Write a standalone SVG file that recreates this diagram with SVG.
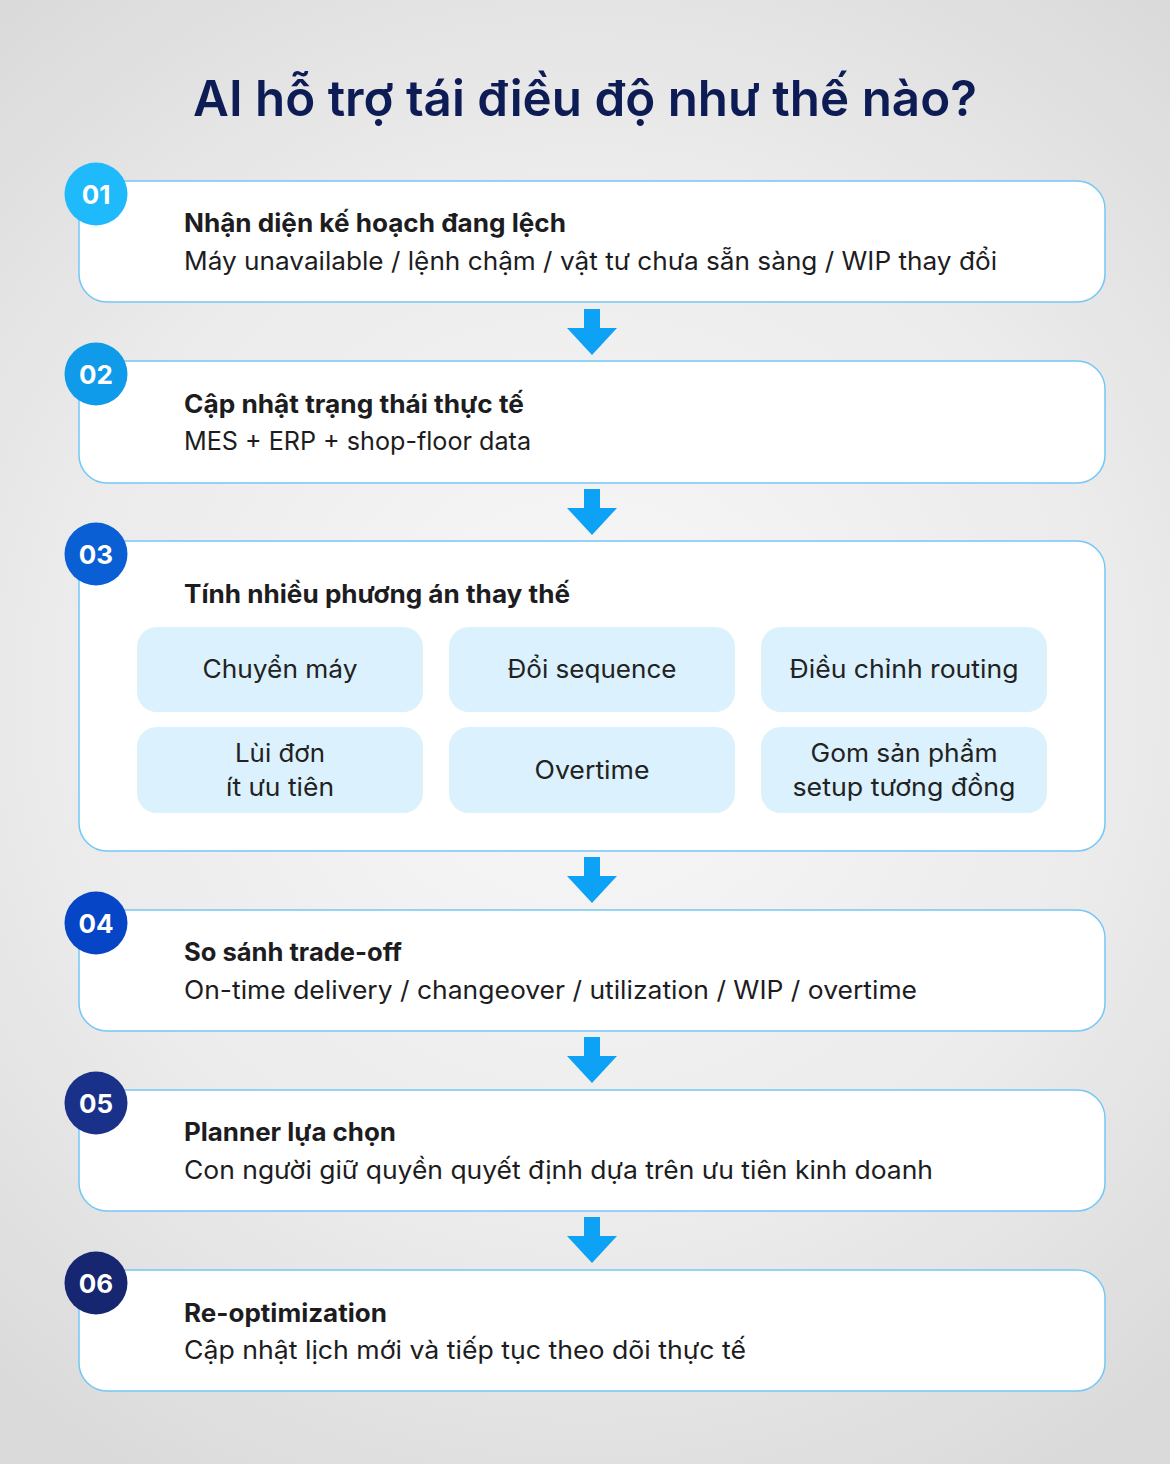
<svg xmlns="http://www.w3.org/2000/svg" width="1170" height="1464" viewBox="0 0 1170 1464">
  <defs>
    <radialGradient id="bg" cx="585" cy="700" r="900" gradientUnits="userSpaceOnUse">
      <stop offset="0" stop-color="#f8f8f8"/>
      <stop offset="0.6" stop-color="#ebebeb"/>
      <stop offset="1" stop-color="#dadada"/>
    </radialGradient>
    <path id="arrow" d="M-8,0 L8,0 L8,19 L25,19 L0,46 L-25,19 L-8,19 Z"/>
  </defs>
  <style>
    .card { fill: #ffffff; stroke: #74c7f6; stroke-width: 1.5; }
    .pill { fill: #dbf1fd; }
    .badgeText { font-family: Inter, "Noto Sans", sans-serif; font-size: 26px; font-weight: 700; fill: #ffffff; text-anchor: middle; }
    .head { font-family: Inter, "Noto Sans", sans-serif; font-size: 25px; font-weight: 700; fill: #1d1d1f; }
    .sub { font-family: Inter, "Noto Sans", sans-serif; font-size: 25px; font-weight: 400; fill: #1d1d1f; }
    .pillText { font-family: Inter, "Noto Sans", sans-serif; font-size: 25px; font-weight: 400; fill: #222222; text-anchor: middle; }
    .title { font-family: Inter, "Noto Sans", sans-serif; font-size: 50px; font-weight: 600; fill: #0e1c56; text-anchor: middle; }
    .arr { fill: #0ea2f6; }
  </style>
  <rect x="0" y="0" width="1170" height="1464" fill="url(#bg)"/>

  <text class="title" x="585" y="116" textLength="784" lengthAdjust="spacingAndGlyphs">AI hỗ trợ tái điều độ như thế nào?</text>

  <g id="connectors">
    <use href="#arrow" class="arr" x="592" y="309"/>
    <use href="#arrow" class="arr" x="592" y="489"/>
    <use href="#arrow" class="arr" x="592" y="857"/>
    <use href="#arrow" class="arr" x="592" y="1037"/>
    <use href="#arrow" class="arr" x="592" y="1217"/>
  </g>

  <g id="step1">
    <rect class="card" x="79" y="181" width="1026" height="121" rx="28"/>
    <circle cx="96" cy="194" r="31.5" fill="#1fbafc"/>
    <text class="badgeText" x="96" y="204">01</text>
    <text class="head" x="184" y="232" textLength="382" lengthAdjust="spacingAndGlyphs">Nhận diện kế hoạch đang lệch</text>
    <text class="sub" x="184" y="270" textLength="813" lengthAdjust="spacingAndGlyphs">Máy unavailable / lệnh chậm / vật tư chưa sẵn sàng / WIP thay đổi</text>
  </g>

  <g id="step2">
    <rect class="card" x="79" y="361" width="1026" height="122" rx="28"/>
    <circle cx="96" cy="374" r="31.5" fill="#0f9be9"/>
    <text class="badgeText" x="96" y="384">02</text>
    <text class="head" x="184" y="413" textLength="340" lengthAdjust="spacingAndGlyphs">Cập nhật trạng thái thực tế</text>
    <text class="sub" x="184" y="450" textLength="347" lengthAdjust="spacingAndGlyphs">MES + ERP + shop-floor data</text>
  </g>

  <g id="step3">
    <rect class="card" x="79" y="541" width="1026" height="310" rx="28"/>
    <circle cx="96" cy="554" r="31.5" fill="#0b5fd5"/>
    <text class="badgeText" x="96" y="564">03</text>
    <text class="head" x="184" y="603" textLength="386" lengthAdjust="spacingAndGlyphs">Tính nhiều phương án thay thế</text>
    <g id="opt1">
      <rect class="pill" x="137" y="627" width="286" height="85" rx="20"/>
      <text class="pillText" x="280" y="678" textLength="155" lengthAdjust="spacingAndGlyphs">Chuyển máy</text>
    </g>
    <g id="opt2">
      <rect class="pill" x="449" y="627" width="286" height="85" rx="20"/>
      <text class="pillText" x="592" y="678" textLength="169" lengthAdjust="spacingAndGlyphs">Đổi sequence</text>
    </g>
    <g id="opt3">
      <rect class="pill" x="761" y="627" width="286" height="85" rx="20"/>
      <text class="pillText" x="904" y="678" textLength="229" lengthAdjust="spacingAndGlyphs">Điều chỉnh routing</text>
    </g>
    <g id="opt4">
      <rect class="pill" x="137" y="727" width="286" height="86" rx="20"/>
      <text class="pillText" x="280" y="762" textLength="90" lengthAdjust="spacingAndGlyphs">Lùi đơn</text>
      <text class="pillText" x="280" y="796" textLength="108" lengthAdjust="spacingAndGlyphs">ít ưu tiên</text>
    </g>
    <g id="opt5">
      <rect class="pill" x="449" y="727" width="286" height="86" rx="20"/>
      <text class="pillText" x="592" y="779" textLength="115" lengthAdjust="spacingAndGlyphs">Overtime</text>
    </g>
    <g id="opt6">
      <rect class="pill" x="761" y="727" width="286" height="86" rx="20"/>
      <text class="pillText" x="904" y="762" textLength="187" lengthAdjust="spacingAndGlyphs">Gom sản phẩm</text>
      <text class="pillText" x="904" y="796" textLength="223" lengthAdjust="spacingAndGlyphs">setup tương đồng</text>
    </g>
  </g>

  <g id="step4">
    <rect class="card" x="79" y="910" width="1026" height="121" rx="28"/>
    <circle cx="96" cy="923" r="31.5" fill="#0645c6"/>
    <text class="badgeText" x="96" y="933">04</text>
    <text class="head" x="184" y="961" textLength="218" lengthAdjust="spacingAndGlyphs">So sánh trade-off</text>
    <text class="sub" x="184" y="999" textLength="733" lengthAdjust="spacingAndGlyphs">On-time delivery / changeover / utilization / WIP / overtime</text>
  </g>

  <g id="step5">
    <rect class="card" x="79" y="1090" width="1026" height="121" rx="28"/>
    <circle cx="96" cy="1103" r="31.5" fill="#1a318a"/>
    <text class="badgeText" x="96" y="1113">05</text>
    <text class="head" x="184" y="1141" textLength="212" lengthAdjust="spacingAndGlyphs">Planner lựa chọn</text>
    <text class="sub" x="184" y="1179" textLength="749" lengthAdjust="spacingAndGlyphs">Con người giữ quyền quyết định dựa trên ưu tiên kinh doanh</text>
  </g>

  <g id="step6">
    <rect class="card" x="79" y="1270" width="1026" height="121" rx="28"/>
    <circle cx="96" cy="1283" r="31.5" fill="#172670"/>
    <text class="badgeText" x="96" y="1293">06</text>
    <text class="head" x="184" y="1322" textLength="203" lengthAdjust="spacingAndGlyphs">Re-optimization</text>
    <text class="sub" x="184" y="1359" textLength="562" lengthAdjust="spacingAndGlyphs">Cập nhật lịch mới và tiếp tục theo dõi thực tế</text>
  </g>
</svg>
